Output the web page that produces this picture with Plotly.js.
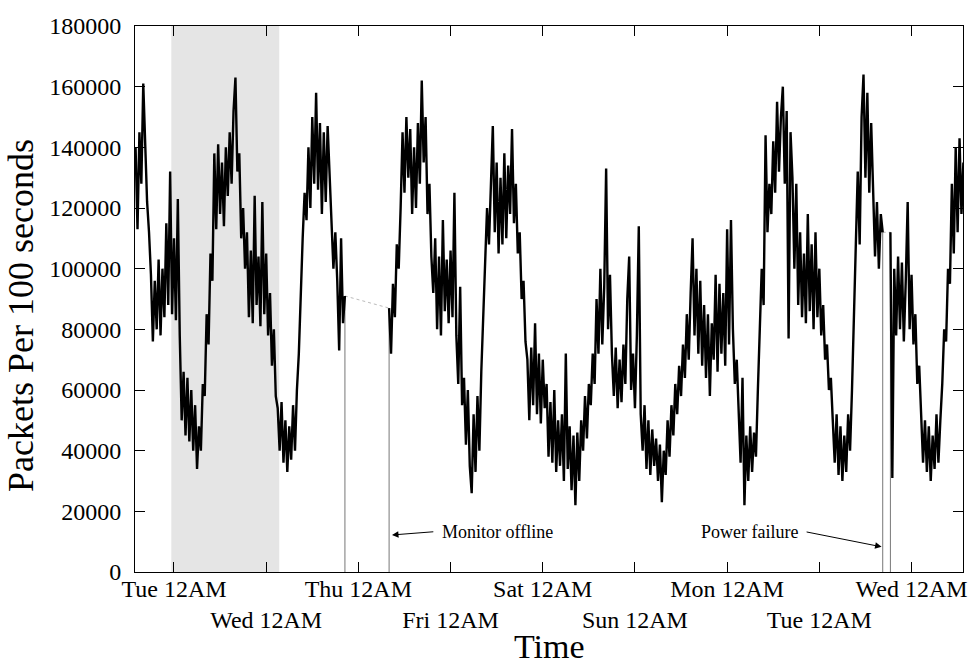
<!DOCTYPE html>
<html>
<head>
<meta charset="utf-8">
<script src="https://cdn.plot.ly/plotly-3.0.1.min.js"></script>
<style>html,body{margin:0;padding:0;background:#fff;}#chart{width:971px;height:666px;}</style>
</head>
<body>
<div id="chart"></div>
<script>
// Sampling interval (hours) and segment start times (hours after Tue 12AM)
const STEP = 0.5;
const seg1Start = -10;
const seg2Start = 56;
const seg3Start = 186.5;

// Packets per 100 seconds
const seg1Values = [140000,113000,145000,128000,161000,138000,122000,112000,98000,76000,96000,80000,103000,78000,100000,84000,115000,88000,132000,85000,110000,83000,123000,78000,50000,66000,45000,64000,43000,60000,40000,55000,34000,48000,40000,62000,58000,85000,75000,105000,96000,138000,113000,141000,118000,135000,114000,140000,124000,145000,128000,152000,163000,132000,138000,110000,120000,100000,112000,84000,106000,82000,124000,88000,104000,81000,122000,85000,105000,78000,92000,68000,80000,58000,54000,40000,56000,36000,50000,33000,48000,37000,55000,40000,60000,72000,95000,110000,125000,116000,140000,120000,150000,128000,158000,126000,148000,118000,145000,122000,147000,132000,118000,100000,112000,96000,73000,110000,82000,91000];

const seg2Values = [87000,72000,95000,84000,108000,100000,120000,145000,125000,150000,130000,146000,118000,140000,120000,148000,128000,162000,135000,150000,118000,128000,104000,92000,110000,80000,104000,78000,116000,86000,103000,82000,106000,84000,125000,78000,62000,94000,55000,64000,42000,60000,35000,26000,52000,33000,58000,40000,66000,85000,98000,120000,108000,132000,147000,112000,135000,105000,130000,108000,138000,110000,134000,118000,146000,115000,128000,105000,112000,90000,96000,76000,70000,50000,74000,55000,82000,52000,72000,49000,70000,54000,62000,38000,56000,36000,60000,33000,50000,35000,52000,30000,72000,34000,48000,27000,45000,22000,46000,30000,50000,40000,58000,44000,62000,55000,72000,62000,90000,72000,100000,75000,94000,133000,80000,98000,72000,58000,74000,54000,70000,56000,75000,62000,90000,104000,60000,72000,54000,78000,114000,52000,40000,55000,34000,50000,32000,47000,35000,44000,30000,42000,23000,40000,32000,50000,38000,55000,45000,62000,52000,68000,58000,75000,64000,85000,70000,92000,110000,78000,100000,72000,96000,68000,88000,64000,85000,58000,82000,70000,98000,66000,95000,72000,92000,68000,113000,75000,116000,80000,62000,70000,50000,36000,64000,22000,45000,30000,48000,33000,46000,38000,60000,80000,100000,88000,144000,112000,128000,118000,142000,125000,155000,132000,150000,160000,128000,152000,77000,145000,130000,100000,128000,88000,112000,84000,105000,82000,118000,86000,108000,80000,112000,84000,100000,78000,88000,70000,75000,60000,64000,50000,36000,52000,32000,48000,30000,45000,33000,52000,40000,60000,82000,110000,132000,108000,150000,164000,130000,158000,125000,148000,128000,104000,122000,100000,118000,112000];

const seg3Values = [112000,31000,100000,78000,104000,80000,102000,76000,96000,122000,80000,98000,75000,85000,62000,68000,52000,36000,50000,33000,48000,30000,45000,34000,52000,36000,50000,62000,80000,76000,100000,95000,128000,105000,140000,112000,143000,118000,135000];

// Axis ticks
const tickHours = [0, 24, 48, 72, 96, 120, 144, 168, 192];
const tickLabels = ['Tue 12AM', '<br>Wed 12AM', 'Thu 12AM', '<br>Fri 12AM', 'Sat 12AM', '<br>Sun 12AM', 'Mon 12AM', '<br>Tue 12AM', 'Wed 12AM'];

// Shaded period (hours)
const shadeStart = -0.7;
const shadeEnd = 27.4;

function times(start, vals) { return vals.map((v, i) => start + i * STEP); }

const x1 = times(seg1Start, seg1Values);
const x2 = times(seg2Start, seg2Values);
const x3 = times(seg3Start, seg3Values);

const mainX = [...x1, null, ...x2, null, ...x3];
const mainY = [...seg1Values, null, ...seg2Values, null, ...seg3Values];

const end1 = x1[x1.length - 1], end1v = seg1Values[seg1Values.length - 1];
const st2 = x2[0], st2v = seg2Values[0];
const end2 = x2[x2.length - 1], end2v = seg2Values[seg2Values.length - 1];
const st3 = x3[0], st3v = seg3Values[0];

const font = 'Liberation Serif, Times New Roman, serif';

const traces = [
  { // gap connectors
    x: [end1, st2, null, end2, st3], y: [end1v, st2v, null, end2v, st3v],
    mode: 'lines', line: { color: '#bbbbbb', width: 1, dash: 'dot' }, hoverinfo: 'skip', showlegend: false
  },
  { // drops to zero at outages
    x: [end1, end1, null, st2, st2, null, end2, end2, null, st3, st3],
    y: [0, end1v, null, 0, st2v, null, 0, end2v, null, 0, st3v],
    mode: 'lines', line: { color: '#777777', width: 1 }, hoverinfo: 'skip', showlegend: false
  },
  {
    x: mainX, y: mainY, mode: 'lines', connectgaps: false,
    line: { color: '#000000', width: 2.4 }, showlegend: false
  }
];

const layout = {
  width: 971, height: 666,
  margin: { l: 135, r: 8, t: 26, b: 94 },
  paper_bgcolor: '#ffffff', plot_bgcolor: '#ffffff',
  font: { family: font, color: '#000', size: 24 },
  showlegend: false,
  xaxis: {
    range: [-10.15, 205.4], tickmode: 'array', tickvals: tickHours, ticktext: tickLabels,
    tickangle: 0, ticklabelstandoff: -5,
    ticks: 'inside', ticklen: 10, tickwidth: 1, tickcolor: '#000',
    showline: true, linecolor: '#000', linewidth: 1, mirror: 'ticks',
    showgrid: false, zeroline: false,
    tickfont: { family: font, size: 24, color: '#000' }
  },
  yaxis: {
    range: [0, 180000], dtick: 20000, tickformat: 'd',
    ticks: 'inside', ticklen: 10, tickwidth: 1, tickcolor: '#000',
    showline: true, linecolor: '#000', linewidth: 1, mirror: 'ticks',
    showgrid: false, zeroline: false, ticklabelstandoff: 8,
    tickfont: { family: font, size: 24, color: '#000' }
  },
  shapes: [{
    type: 'rect', xref: 'x', yref: 'paper', x0: shadeStart, x1: shadeEnd, y0: 0, y1: 1,
    fillcolor: '#e5e5e5', line: { width: 0 }, layer: 'below'
  }],
  annotations: [
    { xref: 'paper', yref: 'paper', x: -0.137, y: 0.47, text: 'Packets Per 100 seconds', textangle: -90,
      showarrow: false, xanchor: 'center', yanchor: 'middle', font: { family: font, size: 36, color: '#000' } },
    { xref: 'paper', yref: 'paper', x: 0.5, y: -0.137, text: 'Time', borderpad: 0,
      showarrow: false, xanchor: 'center', yanchor: 'middle', font: { family: font, size: 34, color: '#000' } },
    { xref: 'x', yref: 'y', x: 56.75, y: 12200, axref: 'x', ayref: 'y', ax: 67.9, ay: 13300,
      text: '', showarrow: true, arrowhead: 2, arrowsize: 1.3, arrowwidth: 1, arrowcolor: '#000', standoff: 0, startstandoff: 0 },
    { xref: 'x', yref: 'y', x: 69.2, y: 13300, text: 'Monitor offline', showarrow: false,
      xanchor: 'left', yanchor: 'middle', font: { family: font, size: 18, color: '#000' } },
    { xref: 'x', yref: 'y', x: 184.2, y: 8300, axref: 'x', ayref: 'y', ax: 164.3, ay: 13300,
      text: '', showarrow: true, arrowhead: 2, arrowsize: 1.3, arrowwidth: 1, arrowcolor: '#000', standoff: 0, startstandoff: 0 },
    { xref: 'x', yref: 'y', x: 163.0, y: 13300, text: 'Power failure', showarrow: false,
      xanchor: 'right', yanchor: 'middle', font: { family: font, size: 18, color: '#000' } }
  ]
};

Plotly.newPlot('chart', traces, layout, { displayModeBar: false, staticPlot: true });
</script>
</body>
</html>
